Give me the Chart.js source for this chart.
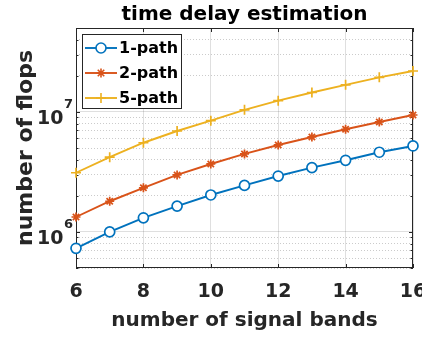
<!DOCTYPE html>
<html>
<head>
<meta charset="utf-8">
<script src="https://cdn.jsdelivr.net/npm/chart.js@4.4.1/dist/chart.umd.min.js"></script>
<style>
  html, body { margin: 0; padding: 0; background: #fff; }
  canvas { display: block; }
</style>
</head>
<body>
<canvas id="flopsChart" width="422" height="337"></canvas>
<script>
// number of signal bands on the x axis
const bands = [6, 7, 8, 9, 10, 11, 12, 13, 14, 15, 16];

// flop counts per path count
const flops1Path = [7.3e5, 1.0e6, 1.31e6, 1.64e6, 2.03e6, 2.44e6, 2.92e6, 3.43e6, 3.95e6, 4.61e6, 5.2e6];
const flops2Path = [1.33e6, 1.80e6, 2.33e6, 2.98e6, 3.68e6, 4.46e6, 5.30e6, 6.18e6, 7.16e6, 8.24e6, 9.42e6];
const flops5Path = [3.11e6, 4.19e6, 5.53e6, 6.93e6, 8.45e6, 1.04e7, 1.24e7, 1.45e7, 1.68e7, 1.94e7, 2.19e7];

const seriesNames = ["1-path", "2-path", "5-path"];
const xTickValues = [6, 8, 10, 12, 14, 16];
const yDecades = [6, 7];

const FONT = "'DejaVu Sans', 'Liberation Sans', sans-serif";
const AXIS_COLOR = "#262626";
const MAJOR_GRID = "rgba(38,38,38,0.15)";
const MINOR_GRID = "rgba(38,38,38,0.24)";

const isDecade = v => Math.abs(Math.log10(v) - Math.round(Math.log10(v))) < 1e-9;
const isMinor = v => {
  const m = v / Math.pow(10, Math.floor(Math.log10(v) + 1e-9));
  return Math.abs(m - Math.round(m)) < 1e-6 && !isDecade(v);
};

const toPoints = ys => bands.map((b, i) => ({ x: b, y: ys[i] }));

function drawMarker(ctx, style, x, y, r, color) {
  ctx.save();
  ctx.strokeStyle = color;
  ctx.lineWidth = 1.6;
  ctx.beginPath();
  if (style === "circle") {
    ctx.arc(x, y, r, 0, Math.PI * 2);
    ctx.fillStyle = "#fff";
    ctx.fill();
  } else {
    ctx.moveTo(x - r, y); ctx.lineTo(x + r, y);
    ctx.moveTo(x, y - r); ctx.lineTo(x, y + r);
    if (style === "star") {
      const d = r * 0.72;
      ctx.moveTo(x - d, y - d); ctx.lineTo(x + d, y + d);
      ctx.moveTo(x - d, y + d); ctx.lineTo(x + d, y - d);
    }
  }
  ctx.stroke();
  ctx.restore();
}

function text(ctx, str, x, y, size, align, color) {
  ctx.font = "bold " + size + "px " + FONT;
  ctx.textAlign = align;
  ctx.textBaseline = "alphabetic";
  ctx.fillStyle = color;
  ctx.fillText(str, x, y);
}

// box, inward ticks and labels in the MATLAB look
const axesDecor = {
  id: "axesDecor",
  beforeDatasetsDraw(chart) {
    const { ctx, chartArea: a, scales: { x, y } } = chart;
    ctx.save();
    ctx.strokeStyle = AXIS_COLOR;
    ctx.lineWidth = 1;
    ctx.strokeRect(Math.round(a.left) + 0.5, Math.round(a.top) + 0.5,
      Math.round(a.right - a.left) - 1, Math.round(a.bottom - a.top) - 1);

    ctx.beginPath();
    x.ticks.forEach(t => {
      const px = Math.round(x.getPixelForValue(t.value)) + 0.5;
      ctx.moveTo(px, a.bottom); ctx.lineTo(px, a.bottom - 4);
      ctx.moveTo(px, a.top); ctx.lineTo(px, a.top + 4);
    });
    y.ticks.forEach(t => {
      if (!isDecade(t.value) && !isMinor(t.value)) return;
      const len = isDecade(t.value) ? 4 : 2.5;
      const py = Math.round(y.getPixelForValue(t.value)) + 0.5;
      ctx.moveTo(a.left, py); ctx.lineTo(a.left + len, py);
      ctx.moveTo(a.right, py); ctx.lineTo(a.right - len, py);
    });
    ctx.stroke();
    ctx.restore();
  },
  afterDraw(chart) {
    const { ctx, chartArea: a, scales: { x, y } } = chart;
    ctx.save();
    const cx = (a.left + a.right) / 2;

    text(ctx, "time delay estimation", cx, 20, 20, "center", "#000");

    xTickValues.forEach(v => {
      text(ctx, String(v), x.getPixelForValue(v), a.bottom + 29, 19, "center", AXIS_COLOR);
    });
    text(ctx, "number of signal bands", cx, 326, 20, "center", AXIS_COLOR);

    yDecades.forEach(e => {
      const py = y.getPixelForValue(Math.pow(10, e));
      text(ctx, "10", 63.5, py + 12.5, 19, "right", AXIS_COLOR);
      text(ctx, String(e), 64, py - 4, 13, "left", AXIS_COLOR);
    });

    ctx.save();
    ctx.translate(32, (a.top + a.bottom) / 2);
    ctx.rotate(-Math.PI / 2);
    text(ctx, "number of flops", 0, 0, 22, "center", AXIS_COLOR);
    ctx.restore();

    // legend
    const lx = 82, ly = 34, lw = 99, lh = 74;
    ctx.fillStyle = "#fff";
    ctx.fillRect(lx, ly, lw, lh);
    ctx.strokeStyle = AXIS_COLOR;
    ctx.lineWidth = 1;
    ctx.strokeRect(lx + 0.5, ly + 0.5, lw, lh);
    chart.data.datasets.forEach((ds, i) => {
      const iy = 48 + i * 25;
      ctx.strokeStyle = ds.borderColor;
      ctx.lineWidth = ds.borderWidth;
      ctx.beginPath();
      ctx.moveTo(85, iy); ctx.lineTo(117, iy);
      ctx.stroke();
      drawMarker(ctx, ds.pointStyle, 101, iy, ds.pointRadius, ds.borderColor);
      ctx.font = "bold 16px " + FONT;
      ctx.textAlign = "left";
      ctx.textBaseline = "middle";
      ctx.fillStyle = "#000";
      ctx.fillText(ds.label, 119, iy + 1);
    });
    ctx.restore();
  }
};

const series = [
  { label: seriesNames[0], data: toPoints(flops1Path), color: "#0072BD", style: "circle", r: 5 },
  { label: seriesNames[1], data: toPoints(flops2Path), color: "#D95319", style: "star", r: 4.5 },
  { label: seriesNames[2], data: toPoints(flops5Path), color: "#EDB120", style: "cross", r: 5 }
];

new Chart(document.getElementById("flopsChart"), {
  type: "line",
  data: {
    datasets: series.map(s => ({
      label: s.label,
      data: s.data,
      borderColor: s.color,
      backgroundColor: s.style === "circle" ? "#fff" : s.color,
      pointBorderColor: s.color,
      pointBackgroundColor: s.style === "circle" ? "#fff" : s.color,
      borderWidth: 1.9,
      pointBorderWidth: 1.7,
      pointStyle: s.style,
      pointRadius: s.r,
      tension: 0,
      fill: false,
      clip: false
    }))
  },
  options: {
    responsive: false,
    animation: false,
    layout: { padding: { left: 76, right: 9, top: 28, bottom: 69 } },
    plugins: {
      legend: { display: false },
      tooltip: { enabled: false },
      title: { display: false }
    },
    scales: {
      x: {
        type: "linear",
        min: 6,
        max: 16,
        ticks: { display: false, stepSize: 2 },
        grid: { color: MAJOR_GRID, drawTicks: false },
        border: { display: false }
      },
      y: {
        type: "logarithmic",
        min: 5e5,
        max: 5e7,
        ticks: { display: false, autoSkip: false },
        grid: {
          drawTicks: false,
          color: ctx => {
            const v = ctx.tick ? ctx.tick.value : 0;
            if (isDecade(v)) return MAJOR_GRID;
            if (isMinor(v)) return MINOR_GRID;
            return "rgba(0,0,0,0)";
          }
        },
        border: {
          display: false,
          dash: ctx => (ctx.tick && isDecade(ctx.tick.value)) ? [] : [1, 2]
        }
      }
    }
  },
  plugins: [axesDecor]
});
</script>
</body>
</html>
